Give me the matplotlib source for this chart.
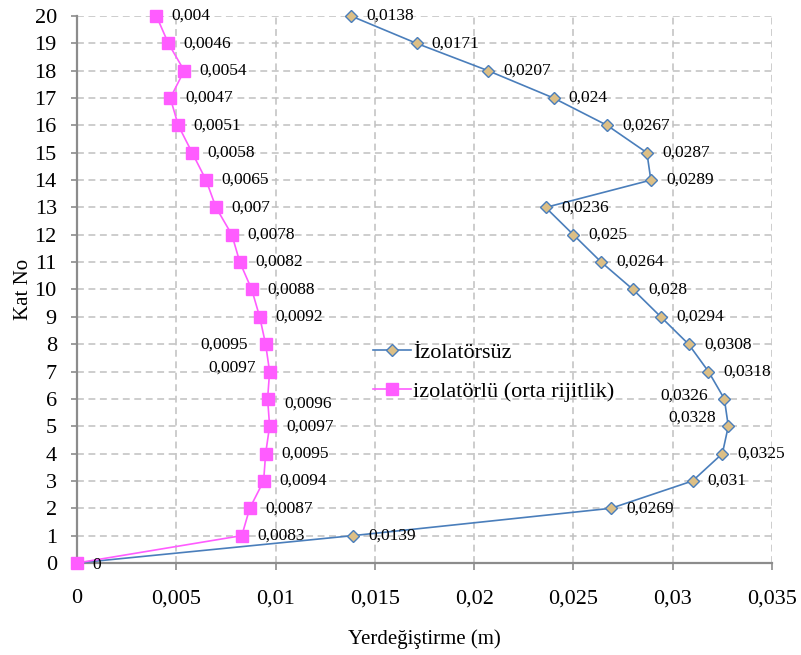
import matplotlib
matplotlib.use("Agg")
import matplotlib.pyplot as plt
from matplotlib.ticker import FuncFormatter, MultipleLocator

plt.rcParams['font.family'] = ['Liberation Serif', 'DejaVu Serif']

# Floor numbers and lateral displacements (m)
floors = list(range(0, 21))
izolatorsuz = [0, 0.0139, 0.0269, 0.031, 0.0325, 0.0328, 0.0326, 0.0318, 0.0308,
               0.0294, 0.028, 0.0264, 0.025, 0.0236, 0.0289, 0.0287, 0.0267,
               0.024, 0.0207, 0.0171, 0.0138]
izolatorlu = [0, 0.0083, 0.0087, 0.0094, 0.0095, 0.0097, 0.0096, 0.0097, 0.0095,
              0.0092, 0.0088, 0.0082, 0.0078, 0.007, 0.0065, 0.0058, 0.0051,
              0.0047, 0.0054, 0.0046, 0.004]
series_names = ['İzolatörsüz', 'izolatörlü (orta rijitlik)']
x_ticks = [0, 0.005, 0.01, 0.015, 0.02, 0.025, 0.03, 0.035]


def fmt(v):
    return '0' if v == 0 else f"{v:g}".replace('.', ',')


# Label offsets (points) where the default right-side placement is not used
blue_offsets = {6: (-12, 2, 'right'), 5: (-9, 6.5, 'right')}
pink_offsets = {8: (-13, 0, 'right'), 7: (-10, 3, 'right'),
                6: (12, -3.5, 'left'), 5: (12, -0.5, 'left')}

fig = plt.figure(figsize=(8.01, 6.55), dpi=100)
ax = fig.add_axes([0.0961, 0.1405, 0.8677, 0.8351])

blue = '#4A7EBB'
pink = '#FF5CFF'

ax.plot(izolatorsuz, floors, color=blue, lw=1.2, marker='D', ms=6,
        mfc='#DCBF86', mec=blue, mew=1.0, label=series_names[0], zorder=3,
        clip_on=False)
ax.plot(izolatorlu, floors, color=pink, lw=1.2, marker='s', ms=8.5,
        mfc=pink, mec=pink, label=series_names[1], zorder=4, clip_on=False)

for f, v in zip(floors, izolatorsuz):
    if f == 0:
        continue
    dx, dy, ha = blue_offsets.get(f, (11, 0, 'left'))
    ax.annotate(fmt(v), (v, f), xytext=(dx, dy), textcoords='offset points',
                ha=ha, va='center', fontsize=12.5, zorder=5)

for f, v in zip(floors, izolatorlu):
    dx, dy, ha = pink_offsets.get(f, (11, 0, 'left'))
    if f == 0:
        dy = -1.5
    ax.annotate(fmt(v), (v, f), xytext=(dx, dy), textcoords='offset points',
                ha=ha, va='center', fontsize=12.5, zorder=5)

ax.set_xlim(0, 0.035)
ax.set_ylim(0, 20)
ax.set_xticks(x_ticks)
ax.yaxis.set_major_locator(MultipleLocator(1))
ax.xaxis.set_major_formatter(FuncFormatter(lambda v, p: fmt(round(v, 6))))

ax.grid(True, color='#C0C0C0', ls=(0, (4.5, 3)), lw=1.1)
ax.set_axisbelow(True)
for s in ('top', 'right'):
    ax.spines[s].set_visible(False)
for s in ('left', 'bottom'):
    ax.spines[s].set_color('#8C8C8C')
    ax.spines[s].set_linewidth(1.6)

ax.tick_params(axis='x', direction='out', length=5, width=1.2, color='#8C8C8C',
               pad=14, labelsize=16)
ax.tick_params(axis='y', direction='out', length=4.5, width=1.2, color='#8C8C8C',
               pad=10, labelsize=16)

ax.set_xlabel('Yerdeğiştirme (m)', fontsize=15, labelpad=15)
ax.set_ylabel('Kat No', fontsize=15, labelpad=1)

ax.legend(loc='center left', bbox_to_anchor=(0.426, 0.349), frameon=False,
          fontsize=16, handlelength=1.7, handletextpad=0.1, borderpad=0,
          borderaxespad=0, labelspacing=0.85)

fig.savefig('out.png', dpi=100)
